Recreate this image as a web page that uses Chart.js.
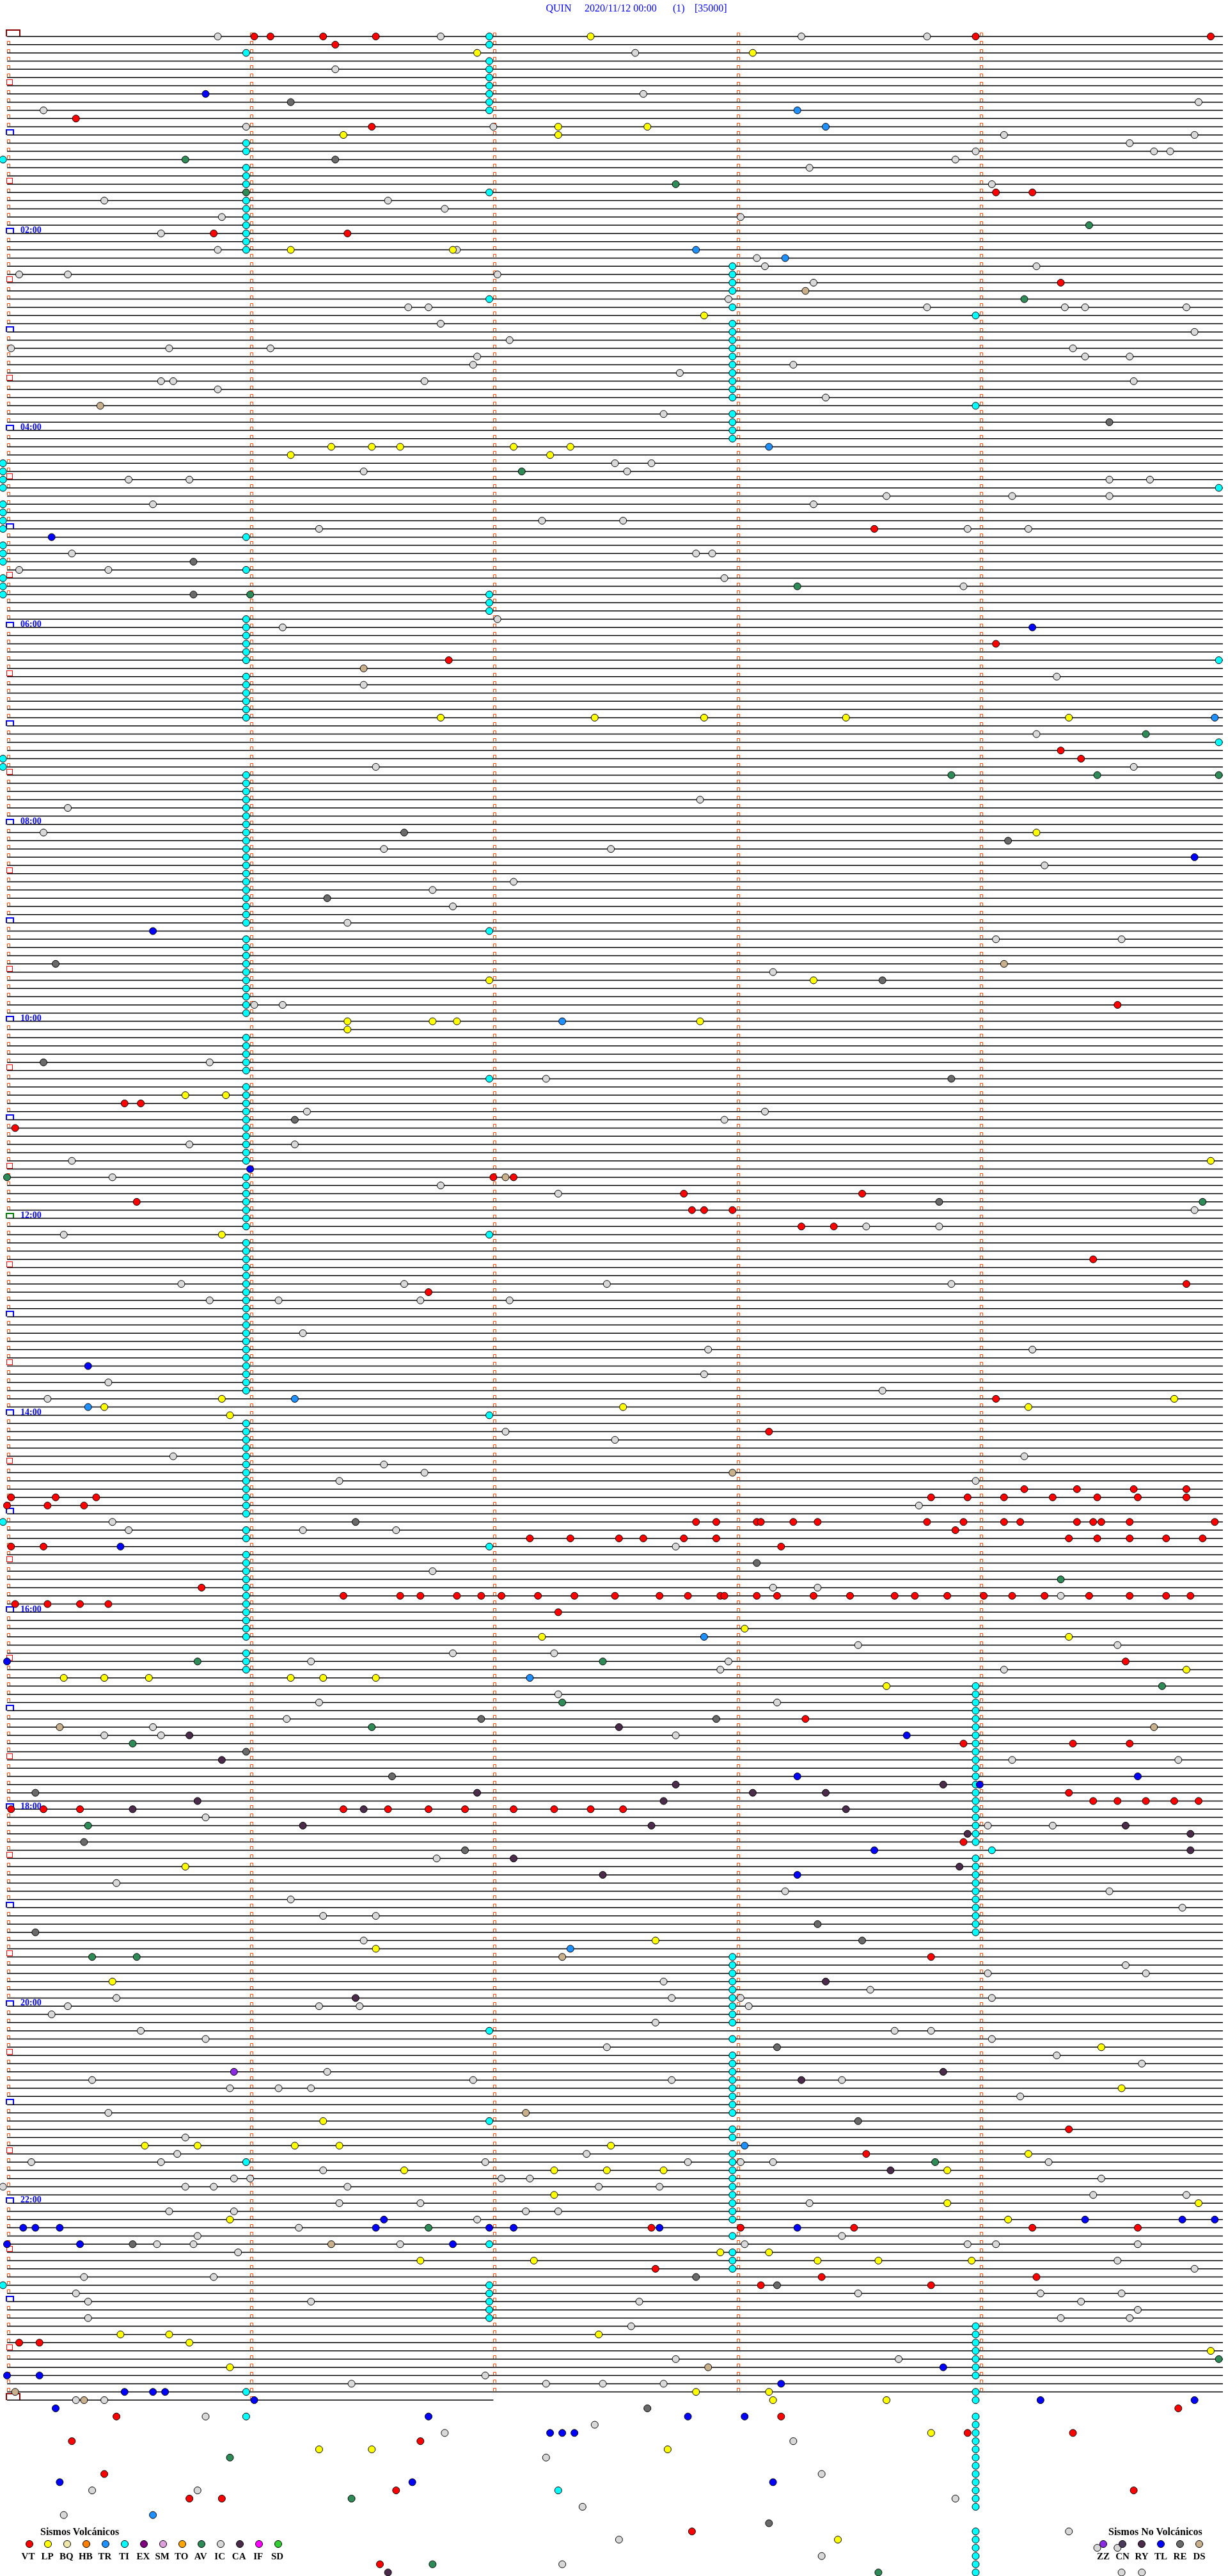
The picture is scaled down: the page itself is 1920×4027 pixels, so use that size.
<!DOCTYPE html>
<html>
<head>
<meta charset="utf-8">
<script src="https://cdn.jsdelivr.net/npm/chart.js@4.4.1/dist/chart.umd.min.js"></script>
<style>
    body { margin: 0; background: #fff; }
    #wrap { position: relative; width: 1920px; height: 4027px; overflow: hidden; }
    #c { position: absolute; left: 0; top: 0; }
    .txt { position: absolute; white-space: pre; font-family: "Liberation Serif", "Times New Roman", serif; color: #0000ff; }
    .leg { color: #000; font-weight: bold; }
    .dot { position: absolute; width: 10px; height: 10px; border: 1px solid #000; border-radius: 50%; }
</style>
</head>
<body>
<div id="wrap"><canvas id="c" width="1920" height="4027"></canvas></div>
<script>
        // Helicorder rows: 5 minutes per row, row 288 is the partial last one
        const rowCount = 289;
        const rowSeconds = 300;
        const lastRowEnd = 120;
        const hourRows = [24, 48, 72, 96, 120, 144, 168, 192, 216, 240, 264];
        const hourLabels = ['02:00', '04:00', '06:00', '08:00', '10:00', '12:00', '14:00', '16:00', '18:00', '20:00', '22:00'];

        // Events: [row, second within row]
        const VT = [[0,61],[0,65],[0,78],[0,91],[0,239],[0,297],[1,81],[10,17],[11,90],[19,244],[19,253],[24,51],[24,84],[30,260],[60,214],[74,244],[76,109],[87,260],[88,265],[118,274],[130,29],[130,33],[133,2],[139,120],[139,125],[141,167],[141,211],[142,32],[143,169],[143,172],[143,179],[145,196],[145,204],[149,268],[152,291],[153,104],[166,244],[170,188],
            [177,251],[177,264],[177,278],[177,291],[178,1],[178,12],[178,22],[178,228],[178,237],[178,246],[178,258],[178,269],[178,279],[178,291],[179,0],[179,10],[179,19],
            [181,170],[181,175],[181,185],[181,186],[181,194],[181,200],[181,227],[181,236],[181,246],[181,250],[181,264],[181,268],[181,270],[181,277],[181,298],[182,234],
            [183,129],[183,139],[183,151],[183,157],[183,167],[183,175],[183,262],[183,269],[183,277],[183,286],[183,295],[184,1],[184,9],[184,191],[189,48],
            [190,83],[190,97],[190,102],[190,111],[190,117],[190,122],[190,131],[190,140],[190,150],[190,161],[190,168],[190,176],[190,177],[190,185],[190,190],[190,199],[190,208],[190,219],[190,224],[190,232],[190,241],[190,248],[190,256],[190,267],[190,277],[190,286],[190,292],
            [191,2],[191,10],[191,18],[191,25],[192,136],[198,276],[205,197],[208,236],[208,263],[208,277],[214,262],[215,268],[215,274],[215,281],[215,288],[215,294],
            [216,1],[216,9],[216,18],[216,83],[216,94],[216,104],[216,113],[216,125],[216,135],[216,144],[216,152],[220,236],[234,228],[255,262],[258,212],
            [267,159],[267,181],[267,209],[267,253],[267,279],[272,160],[273,201],[273,254],[274,186],[274,228],[281,3],[281,8],[289,289],[290,27],[290,191],[292,237],[292,263],[293,16],[293,102],[297,24],[299,96],[299,278],[300,45],[300,53],[304,169],[308,92]];
        const LP = [[0,144],[2,116],[2,184],[11,136],[11,158],[12,83],[12,136],[26,70],[26,110],[34,172],[50,80],[50,90],[50,97],[50,125],[50,139],[51,70],[51,134],
            [83,107],[83,145],[83,172],[83,207],[83,262],[97,254],[115,119],[115,199],[120,84],[120,105],[120,111],[120,171],[121,84],[129,44],[129,54],[137,297],[146,53],
            [166,53],[166,288],[167,24],[167,152],[167,252],[168,55],[194,182],[195,132],[195,262],[199,291],[200,14],[200,24],[200,35],[200,70],[200,78],[200,91],[201,217],
            [223,44],[232,160],[233,91],[237,26],[245,270],[250,275],[254,78],[257,34],[257,47],[257,71],[257,82],[257,149],[258,252],[260,98],[260,135],[260,148],[260,162],[260,232],
            [263,135],[264,232],[264,294],[266,55],[266,247],[270,176],[270,188],[271,102],[271,130],[271,200],[271,215],[271,238],[280,28],[280,40],[280,146],[281,45],[282,297],
            [284,55],[287,170],[287,188],[288,189],[288,217],[292,228],[294,77],[294,90],[294,163],[305,205]];
        const TR = [[9,195],[11,202],[26,170],[27,192],[50,188],[83,298],[120,137],[166,71],[167,20],[195,172],[200,129],[233,139],[257,182],[302,36]];
        // TI columns: [first row, last row, second]
        const TIruns = [[0,1,119],[2,2,59],[3,9,119],[13,14,59],[15,15,-1],[16,18,59],[19,19,119],[20,26,59],[28,31,179],[32,32,119],[33,33,179],[34,34,239],[35,44,179],[45,45,239],[46,49,179],
            [52,55,-1],[55,55,299],[57,60,-1],[61,61,59],[62,64,-1],[65,65,59],[66,68,-1],[68,70,119],[71,76,59],[76,76,299],[78,83,59],[86,86,299],[88,89,-1],[90,108,59],[109,109,119],
            [110,119,59],[122,126,59],[127,127,119],[128,137,59],[139,145,59],[146,146,119],[147,165,59],[168,168,119],[169,180,59],[181,181,-1],[182,183,59],[184,184,119],[185,195,59],[197,199,59],
            [201,220,239],[221,221,243],[222,231,239],[234,242,179],[243,243,119],[244,244,179],[246,253,179],[254,254,119],[255,256,179],[258,266,179],[259,259,59],[268,268,179],[269,269,119],
            [270,272,179],[274,274,-1],[274,278,119],[279,285,239],[287,287,59],[287,288,239],[290,290,59],[290,301,239],[299,299,136],[304,309,239]];
        const AV = [[15,44],[18,165],[19,59],[23,267],[32,251],[53,127],[67,195],[68,60],[85,281],[90,233],[90,269],[90,299],[139,0],[142,295],[188,260],[198,47],[198,147],[201,285],[203,137],[206,90],[208,31],[218,20],[234,21],[234,32],[259,229],[267,104],[283,299],[295,55],[300,85],[308,105],[309,215]];
        const IC = [[0,52],[0,107],[0,196],[0,227],[2,155],[4,81],[7,157],[8,294],[9,9],[11,59],[11,120],[12,246],[12,293],[13,277],[14,239],[14,283],[14,287],[15,234],[16,198],[18,243],[20,24],[20,94],[21,108],[22,53],[22,181],[24,38],[26,52],[26,111],[27,185],[28,187],[28,254],[29,3],[29,15],[29,121],[30,199],[32,178],
            [33,99],[33,104],[33,227],[33,261],[33,266],[33,291],[35,107],[36,293],[37,124],[38,1],[38,40],[38,65],[38,263],[39,116],[39,266],[39,277],[40,115],[40,194],[41,166],[42,38],[42,41],[42,103],[42,278],[43,52],[44,202],[46,162],
            [52,150],[52,159],[53,88],[53,153],[54,30],[54,45],[54,272],[54,282],[56,217],[56,248],[56,272],[57,36],[57,199],[59,132],[59,152],[60,77],[60,237],[60,252],[63,16],[63,170],[63,174],[65,3],[65,25],[66,177],[67,236],[71,121],[72,68],[78,259],[79,88],[85,254],[89,91],[89,278],[93,171],[94,15],[97,9],[99,93],[99,149],[101,256],
            [103,125],[104,105],[106,110],[108,84],[110,244],[110,275],[114,189],[118,61],[118,68],[125,50],[127,133],[131,74],[131,187],[132,177],[135,45],[135,71],[137,16],[139,26],[140,107],[141,136],[143,293],[145,212],[145,230],[146,14],
            [152,43],[152,98],[152,148],[152,233],[154,50],[154,67],[154,102],[154,124],[158,73],[160,173],[160,253],[163,172],[164,25],[165,216],[166,10],[170,123],[171,150],[173,41],[173,251],[174,93],[175,103],[176,82],[176,239],[179,225],[181,26],[182,30],[182,73],[182,96],[184,165],[187,105],[189,189],[189,200],[190,260],[196,210],[196,274],[197,110],[197,135],[198,75],[198,178],[199,176],[199,246],[202,136],[203,77],[203,190],
            [205,69],[206,36],[207,24],[207,38],[207,165],[210,248],[210,289],[217,49],[218,242],[218,258],[222,106],[225,27],[226,192],[226,272],[227,70],[228,290],[229,78],[229,91],[232,88],[235,276],[236,242],[236,281],[237,162],[238,213],[239,27],[239,164],[239,181],[239,243],[240,15],[240,77],[240,87],[240,183],[241,11],[242,160],[243,33],[243,219],[243,228],[244,49],[244,243],[245,148],[246,259],[247,280],[248,79],[249,21],[249,115],[249,164],[249,206],[250,55],[250,67],[250,75],[251,250],[253,25],[256,44],
            [258,42],[258,143],[259,6],[259,38],[259,118],[259,168],[259,181],[259,189],[259,257],[260,78],[261,56],[261,60],[261,122],[261,129],[261,270],[262,-1],[262,44],[262,51],[262,84],[262,146],[262,161],[263,268],[263,291],[264,82],[264,102],[264,198],[265,40],[265,56],[265,128],[265,136],[266,116],[267,72],[268,47],[268,206],
            [269,37],[269,46],[269,97],[269,182],[269,237],[269,244],[269,279],[270,57],[271,274],[272,293],[273,19],[273,51],[275,17],[275,210],[275,255],[275,275],[276,20],[276,75],[276,156],[276,265],[277,279],[278,20],[278,260],[278,277],[279,154],[283,165],[283,220],[285,118],[286,85],[286,133],[286,147],[286,162],[288,17],[288,24],
            [290,49],[291,145],[292,108],[293,194],[295,133],[297,201],[299,21],[299,47],[300,234],[301,142],[302,14],[304,262],[305,151],[306,269],[306,274],[307,201],[308,137],[309,275],[309,280]];
        const TL = [[7,49],[61,11],[72,253],[100,293],[109,36],[138,60],[162,20],[184,28],[198,0],[207,222],[212,195],[212,279],[213,240],[221,214],[224,195],[266,93],[266,266],[266,290],[266,298],[267,4],[267,7],[267,13],[267,91],[267,119],[267,125],[267,161],[267,195],[269,0],[269,18],[269,110],[284,231],[285,0],[285,8],[286,191],[287,29],[287,36],[287,39],[288,61],[288,255],[288,293],[289,12],[290,104],[290,168],[290,182],[292,134],[292,137],[292,140],[298,13],[298,100],[298,189]];
        const RE = [[8,70],[15,81],[47,272],[64,46],[68,46],[97,98],[98,247],[105,79],[113,12],[115,216],[125,9],[127,233],[132,71],[142,230],[181,86],[186,185],[205,117],[205,175],[209,59],[212,95],[214,7],[220,19],[221,113],[230,200],[231,7],[232,211],[245,190],[254,210],[269,31],[273,170],[274,190],[289,158],[303,188]];
        const DS = [[31,197],[45,23],[77,88],[113,246],[139,123],[175,179],[206,13],[206,283],[234,137],[253,128],[269,80],[284,173],[287,2],[288,19]];
        const CA = [[206,151],[207,45],[210,53],[213,165],[213,231],[214,116],[214,184],[214,202],[215,47],[215,162],[216,31],[216,88],[216,207],[218,73],[218,159],[218,276],[219,237],[219,292],[221,292],[222,125],[223,235],[224,147],[237,202],[239,86],[248,231],[249,196],[260,218],[309,94]];
        const ZZ = [[248,56]];

        // Legend categories and colours
        const volcanicTypes = ['VT', 'LP', 'BQ', 'HB', 'TR', 'TI', 'EX', 'SM', 'TO', 'AV', 'IC', 'CA', 'IF', 'SD'];
        const nonVolcanicTypes = ['ZZ', 'CN', 'RY', 'TL', 'RE', 'DS'];
        const typeColors = {
            VT: '#ff0000', LP: '#ffff00', BQ: '#eee8aa', HB: '#ff8000', TR: '#1e90ff', TI: '#00ffff', EX: '#800080',
            SM: '#dda0dd', TO: '#ffa500', AV: '#2e8b57', IC: '#d8d8d8', CA: '#4a2c4a', IF: '#ff00ff', SD: '#32cd32',
            ZZ: '#8a2be2', CN: '#4b3b5b', RY: '#4a2c4a', TL: '#0000ff', RE: '#696969', DS: '#c8b08c'
        };

        // Expand TI runs
        const TI = [];
        TIruns.forEach(([a, b, s]) => { for (let r = a; r <= b; r++) TI.push([r, s]); });

        const toPoints = list => list.map(([row, sec]) => ({ x: sec, y: row }));

        // Trace lines
        const traceData = [];
        for (let r = 0; r < rowCount; r++) {
            const end = r === rowCount - 1 ? lastRowEnd : rowSeconds;
            traceData.push({ x: 0, y: r }, { x: end, y: r }, { x: end, y: null });
        }

        const eventSets = [
            ['IC', IC, 20], ['TI', TI, 15], ['VT', VT, 10], ['LP', LP, 9], ['TR', TR, 8], ['AV', AV, 7],
            ['CA', CA, 6], ['RE', RE, 5], ['DS', DS, 4], ['TL', TL, 3], ['ZZ', ZZ, 2]
        ];

        const datasets = eventSets.map(([code, list, order]) => ({
            type: 'scatter',
            label: code,
            data: toPoints(list),
            backgroundColor: typeColors[code],
            borderColor: '#000',
            borderWidth: 1,
            pointRadius: 5.5,
            pointHoverRadius: 5.5,
            clip: false,
            order
        }));
        datasets.push({
            type: 'line',
            label: 'trace',
            data: traceData,
            borderColor: '#000',
            borderWidth: 1.5,
            pointRadius: 0,
            spanGaps: false,
            tension: 0,
            order: 100
        });

        // Row start and minute markers
        const markerPlugin = {
            id: 'markers',
            beforeDatasetsDraw(chart) {
                const ctx = chart.ctx;
                const xs = chart.scales.x, ys = chart.scales.y;
                ctx.save();
                for (let r = 0; r < rowCount; r++) {
                    const y = Math.round(ys.getPixelForValue(r));
                    const end = r === rowCount - 1 ? lastRowEnd : rowSeconds;
                    const x0 = Math.round(xs.getPixelForValue(0));
                    ctx.lineWidth = 1;
                    ctx.strokeStyle = '#ff4500';
                    for (let m = 1; m * 60 < end; m++) {
                        const x = Math.round(xs.getPixelForValue(m * 60));
                        ctx.beginPath();
                        ctx.moveTo(x + 0.5, y - 1);
                        ctx.lineTo(x + 0.5, y - 5.5);
                        ctx.lineTo(x + 4.5, y - 5.5);
                        ctx.lineTo(x + 4.5, y - 1);
                        ctx.stroke();
                    }
                    if (r === 0 || r === rowCount - 1) {
                        ctx.lineWidth = 2;
                        ctx.strokeStyle = '#8b0000';
                        ctx.beginPath();
                        ctx.moveTo(x0 - 1, y);
                        ctx.lineTo(x0 - 1, y - 10);
                        ctx.lineTo(x0 + 20, y - 10);
                        ctx.lineTo(x0 + 20, y);
                        ctx.stroke();
                    } else if (r % 12 === 0) {
                        ctx.lineWidth = 2;
                        ctx.strokeStyle = r === 144 ? '#008000' : '#0000ff';
                        ctx.beginPath();
                        ctx.moveTo(x0 - 1, y);
                        ctx.lineTo(x0 - 1, y - 8);
                        ctx.lineTo(x0 + 10, y - 8);
                        ctx.lineTo(x0 + 10, y);
                        ctx.stroke();
                    } else if (r % 12 === 6) {
                        ctx.lineWidth = 1;
                        ctx.strokeStyle = '#ff0000';
                        ctx.strokeRect(x0 - 0.5, y - 9.5, 9, 8);
                    } else {
                        ctx.beginPath();
                        ctx.moveTo(x0 + 0.5, y - 1);
                        ctx.lineTo(x0 + 0.5, y - 5.5);
                        ctx.lineTo(x0 + 4.5, y - 5.5);
                        ctx.lineTo(x0 + 4.5, y - 1);
                        ctx.stroke();
                    }
                }
                ctx.restore();
            }
        };

        const chart = new Chart(document.getElementById('c').getContext('2d'), {
            type: 'scatter',
            data: { datasets },
            options: {
                responsive: false,
                animation: false,
                events: [],
                layout: { padding: 0, autoPadding: false },
                plugins: { legend: { display: false }, tooltip: { enabled: false }, title: { display: false } },
                scales: {
                    x: { type: 'linear', display: false, min: -1.736, max: 301.26 },
                    y: { type: 'linear', display: false, reverse: true, min: -4.443, max: 309.43 }
                }
            },
            plugins: [markerPlugin]
        });

        // Text helpers
        const wrap = document.getElementById('wrap');
        function addText(str, x, baseline, size, extraClass, bold, center) {
            const d = document.createElement('div');
            d.className = 'txt' + (extraClass ? ' ' + extraClass : '');
            d.textContent = str;
            d.style.fontSize = size + 'px';
            d.style.lineHeight = size + 'px';
            if (bold) d.style.fontWeight = 'bold';
            d.style.top = (baseline - 0.8375 * size) + 'px';
            d.style.left = x + 'px';
            if (center) d.style.transform = 'translateX(-50%)';
            wrap.appendChild(d);
        }
        function addDot(cx, cy, color) {
            const d = document.createElement('div');
            d.className = 'dot';
            d.style.left = (cx - 6) + 'px';
            d.style.top = (cy - 6) + 'px';
            d.style.background = color;
            wrap.appendChild(d);
        }

        // Title
        addText('QUIN', 853.5, 18, 16);
        addText('2020/11/12 00:00', 914, 18, 16);
        addText('(1)', 1052, 18, 16);
        addText('[35000]', 1086, 18, 16);

        // Hour labels
        hourRows.forEach((r, i) => {
            addText(hourLabels[i], 32, chart.scales.y.getPixelForValue(r), 14, '', true);
        });

        // Legends
        addText('Sismos Volcánicos', 63, 3963, 16, 'leg', true);
        volcanicTypes.forEach((t, i) => {
            const cx = 45.5 + i * 29.97;
            addDot(cx, 3977, typeColors[t]);
            addText(t, cx - 1.5, 4002, 15, 'leg', true, true);
        });
        addText('Sismos No Volcánicos', 1733, 3963, 16, 'leg', true);
        nonVolcanicTypes.forEach((t, i) => {
            const cx = 1725 + i * 30;
            addDot(cx, 3977, typeColors[t]);
            addText(t, cx, 4002, 15, 'leg', true, true);
        });
</script>
</body>
</html>
